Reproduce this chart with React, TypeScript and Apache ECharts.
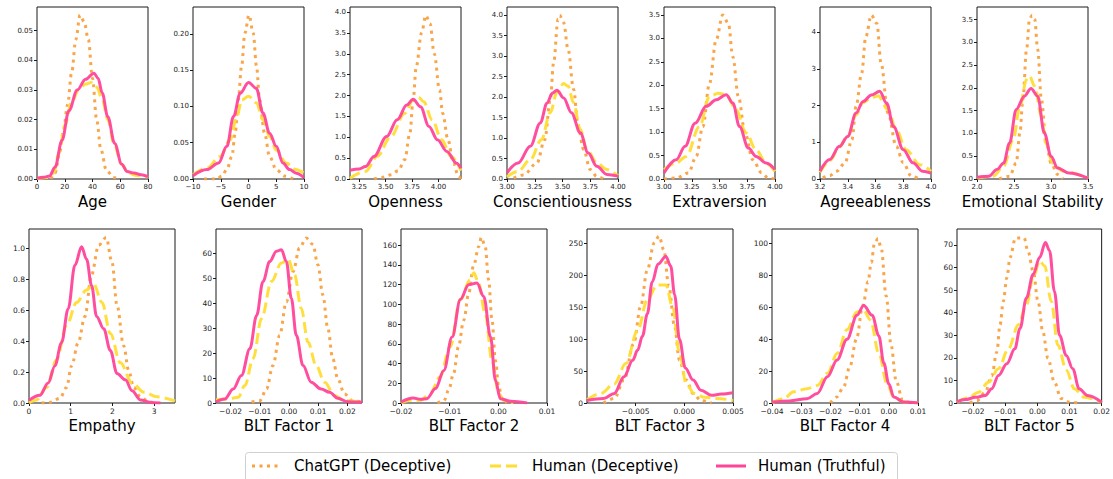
import React, { useEffect, useRef } from "react";
import * as echarts from "echarts";

// ---------- Data (x, density) ----------
const ageGpt = [[10,0],[13,0.002],[16,0.008],[19,0.016],[22,0.025],[25,0.036],[28,0.047],[31,0.0553],[34,0.053],[37,0.047],[40,0.034],[43,0.02],[46,0.01],[50,0.003],[55,0.0005],[60,0]];
const ageHumanDec = [[0,0.0002],[8,0.0005],[12,0.002],[16,0.009],[20,0.018],[25,0.026],[30,0.03],[35,0.032],[39,0.0325],[43,0.031],[47,0.027],[51,0.02],[56,0.011],[61,0.005],[66,0.002],[72,0.0012],[80,0.0006]];
const ageHumanTru = [[0,0.0003],[5,0.0006],[9,0.001],[13,0.004],[18,0.013],[23,0.023],[29,0.03],[35,0.0336],[41,0.0357],[44,0.034],[47,0.029],[51,0.021],[56,0.012],[61,0.005],[65,0.0025],[70,0.002],[75,0.0014],[80,0.0008]];

const genderGpt = [[-8,0],[-5.7,0],[-4.8,0.004],[-3.9,0.013],[-3.0,0.031],[-2.4,0.063],[-1.85,0.109],[-1.25,0.155],[-0.65,0.201],[0.1,0.226],[0.85,0.201],[1.45,0.155],[2.0,0.109],[2.9,0.063],[3.8,0.031],[5,0.013],[6.5,0.004],[8,0]];
const genderHumanDec = [[-10,0.006],[-7.5,0.015],[-5.1,0.031],[-3.3,0.054],[-2.1,0.086],[-1.2,0.109],[0,0.114],[1.4,0.105],[2.6,0.082],[3.8,0.059],[5,0.04],[6.8,0.022],[8.5,0.013],[10,0.008]];
const genderHumanTru = [[-10,0.0046],[-7.5,0.013],[-5.4,0.022],[-3.9,0.045],[-2.7,0.086],[-1.5,0.118],[0,0.133],[1.4,0.125],[2.6,0.091],[3.8,0.063],[5,0.045],[6.2,0.022],[7.4,0.013],[8.6,0.008],[10,0.002]];

const openGpt = [[3.39,0],[3.47,0.04],[3.55,0.1],[3.62,0.2],[3.68,0.46],[3.73,1.1],[3.76,1.9],[3.79,2.7],[3.84,3.5],[3.88,3.92],[3.92,3.72],[3.96,3.0],[4.01,2.13],[4.04,1.57],[4.09,0.94],[4.14,0.38],[4.19,0.06],[4.213,0]];
const openHumanDec = [[3.163,0.02],[3.31,0.18],[3.42,0.54],[3.55,1.02],[3.68,1.57],[3.76,1.89],[3.81,1.96],[3.86,1.85],[3.94,1.42],[4.03,0.94],[4.12,0.54],[4.213,0.2]];
const openHumanTru = [[3.163,0.21],[3.25,0.24],[3.31,0.3],[3.39,0.54],[3.51,1.02],[3.61,1.42],[3.7,1.77],[3.76,1.91],[3.83,1.73],[3.91,1.26],[3.99,0.94],[4.08,0.66],[4.17,0.38],[4.213,0.26]];

const consGpt = [[3.06,0.02],[3.15,0.1],[3.27,0.39],[3.34,0.96],[3.39,1.94],[3.42,2.84],[3.46,3.9],[3.475,4.0],[3.51,3.82],[3.55,3.17],[3.6,2.19],[3.64,1.29],[3.69,0.72],[3.75,0.23],[3.81,0.06],[3.87,0]];
const consHumanDec = [[3.0,0.05],[3.1,0.19],[3.21,0.47],[3.31,0.96],[3.39,1.62],[3.45,2.11],[3.51,2.33],[3.55,2.27],[3.6,1.86],[3.66,1.21],[3.72,0.72],[3.81,0.39],[3.9,0.23],[4.0,0.08]];
const consHumanTru = [[3.0,0.15],[3.1,0.39],[3.21,0.8],[3.3,1.37],[3.36,1.85],[3.41,2.1],[3.45,2.17],[3.51,1.98],[3.58,1.62],[3.66,1.13],[3.73,0.64],[3.81,0.31],[3.9,0.11],[4.0,0.07]];

const extraGpt = [[3.0,0],[3.11,0.02],[3.22,0.13],[3.29,0.48],[3.35,1.12],[3.41,2.04],[3.47,2.97],[3.53,3.5],[3.58,3.32],[3.62,2.61],[3.67,1.76],[3.73,0.98],[3.8,0.41],[3.88,0.13],[3.94,0.02],[4.0,0]];
const extraHumanDec = [[3.0,0.2],[3.11,0.34],[3.2,0.48],[3.32,1.12],[3.41,1.76],[3.49,1.83],[3.56,1.8],[3.65,1.48],[3.74,0.98],[3.83,0.62],[3.92,0.34],[4.0,0.16]];
const extraHumanTru = [[3.0,0.13],[3.11,0.41],[3.19,0.7],[3.28,1.19],[3.38,1.55],[3.47,1.69],[3.56,1.8],[3.62,1.62],[3.68,1.12],[3.76,0.66],[3.83,0.48],[3.92,0.34],[4.0,0.2]];

const agreeGpt = [[3.22,0.03],[3.27,0.09],[3.32,0.21],[3.38,0.44],[3.43,1.07],[3.46,1.98],[3.5,2.88],[3.53,3.88],[3.57,4.47],[3.61,4.24],[3.64,3.16],[3.69,1.8],[3.75,0.89],[3.8,0.44],[3.86,0.07],[3.92,0]];
const agreeHumanDec = [[3.2,0.18],[3.27,0.5],[3.34,0.87],[3.4,1.18],[3.46,1.75],[3.51,2.08],[3.57,2.22],[3.62,2.26],[3.69,1.89],[3.75,1.34],[3.82,0.8],[3.92,0.39],[4.0,0.21]];
const agreeHumanTru = [[3.2,0.21],[3.27,0.53],[3.34,0.89],[3.4,1.16],[3.46,1.8],[3.51,2.11],[3.57,2.29],[3.63,2.39],[3.68,2.07],[3.73,1.43],[3.8,0.8],[3.87,0.44],[3.94,0.21],[4.0,0.16]];

const emoGpt = [[2.3,0],[2.44,0.06],[2.53,0.35],[2.58,1.01],[2.62,1.75],[2.67,2.85],[2.71,3.51],[2.745,3.6],[2.78,3.51],[2.82,2.85],[2.87,1.75],[2.93,0.87],[3.0,0.35],[3.09,0.1],[3.16,0]];
const emoHumanDec = [[2.0,0.02],[2.22,0.06],[2.36,0.28],[2.49,0.87],[2.58,1.6],[2.67,2.19],[2.71,2.26],[2.78,2.04],[2.87,1.38],[2.93,0.79],[3.02,0.35],[3.16,0.17],[3.5,0.02]];
const emoHumanTru = [[2.0,0.04],[2.16,0.06],[2.27,0.21],[2.36,0.35],[2.44,0.79],[2.53,1.53],[2.64,1.82],[2.73,1.99],[2.82,1.82],[2.91,1.01],[3.0,0.5],[3.09,0.24],[3.24,0.13],[3.5,0.02]];

const empGpt = [[0.3,0],[0.5,0.004],[0.74,0.03],[0.9,0.1],[1.02,0.24],[1.18,0.39],[1.34,0.56],[1.5,0.83],[1.67,1.02],[1.85,1.07],[1.99,0.91],[2.11,0.63],[2.27,0.37],[2.39,0.21],[2.51,0.1],[2.67,0.04],[2.87,0.007],[3.0,0]];
const empHumanDec = [[0,0],[0.18,0.02],[0.42,0.1],[0.66,0.28],[0.9,0.5],[1.14,0.65],[1.38,0.73],[1.55,0.77],[1.75,0.65],[1.95,0.45],[2.19,0.26],[2.47,0.13],[2.75,0.07],[3.07,0.04],[3.5,0.013]];
const empHumanTru = [[0,0.017],[0.26,0.05],[0.46,0.13],[0.62,0.24],[0.78,0.39],[0.94,0.61],[1.1,0.89],[1.26,1.01],[1.38,0.93],[1.5,0.76],[1.62,0.56],[1.79,0.48],[1.95,0.34],[2.11,0.19],[2.31,0.15],[2.47,0.08],[2.67,0.02],[2.91,0.004],[3.15,0]];

const blt1Gpt = [[-0.0128,0.3],[-0.01,0.9],[-0.0077,5.6],[-0.0055,15],[-0.0032,27],[-0.0009,40.5],[0.0014,52.6],[0.0036,62],[0.0059,66],[0.0082,63.4],[0.0099,55.3],[0.0116,43.2],[0.0133,29.8],[0.015,17.7],[0.0167,9.7],[0.019,3.6],[0.0218,0.9],[0.025,0.3]];
const blt1HumanDec = [[-0.025,1.3],[-0.0208,1.6],[-0.0174,2.3],[-0.0151,7],[-0.0123,17.7],[-0.0094,33.8],[-0.006,48.6],[-0.0026,56],[-0.0003,57.5],[0.0019,51.3],[0.0042,37.8],[0.0065,24.4],[0.0093,15],[0.0122,8.3],[0.0156,3],[0.019,0.9],[0.025,0.3]];
const blt1HumanTru = [[-0.025,0.5],[-0.022,1.6],[-0.0191,5.6],[-0.0163,11],[-0.0134,21.7],[-0.0111,35],[-0.0089,48.6],[-0.0066,56.6],[-0.0043,60.7],[-0.0026,61.3],[-0.0009,56.6],[0.0008,41.9],[0.0025,27.1],[0.0048,15],[0.0076,8.3],[0.011,5.6],[0.0139,4.3],[0.0167,1.9],[0.0201,0.5],[0.025,0.3]];

const blt2Gpt = [[-0.0125,0],[-0.0112,2],[-0.0102,13],[-0.0092,30],[-0.0082,57],[-0.0071,84],[-0.0061,111],[-0.0051,139],[-0.004,159],[-0.0035,168],[-0.0027,159],[-0.002,125],[-0.0013,84],[-0.0006,43],[0.0001,16],[0.0008,3],[0.0018,0]];
const blt2HumanDec = [[-0.02,0],[-0.0181,2.7],[-0.016,2.7],[-0.014,9.5],[-0.012,26.5],[-0.0099,57],[-0.0078,105],[-0.0058,125],[-0.005,132],[-0.0041,122],[-0.0027,91],[-0.0013,43],[0.0001,9.5],[0.0011,2.7],[0.0031,0]];
const blt2HumanTru = [[-0.02,1],[-0.0175,5],[-0.016,3.8],[-0.0147,4.4],[-0.0129,14.6],[-0.0112,33],[-0.0095,67],[-0.0078,105],[-0.0061,120],[-0.0044,121.6],[-0.003,108],[-0.0016,67],[-0.0006,23],[0.0004,4.4],[0.0025,1.7],[0.0059,0]];

const blt3Gpt = [[-0.0083,0],[-0.0072,7],[-0.0062,36],[-0.0052,93],[-0.0045,151],[-0.0038,209],[-0.0031,251],[-0.0026,262],[-0.0021,240],[-0.0016,183],[-0.001,120],[-0.0005,67],[0.0002,36],[0.0009,15],[0.0017,4],[0.0028,0]];
const blt3HumanDec = [[-0.01,5],[-0.0086,15],[-0.0072,30],[-0.006,62],[-0.0048,114],[-0.0038,162],[-0.0028,185],[-0.0019,185],[-0.0012,151],[-0.0005,78],[0.0002,30],[0.001,15],[0.0021,9],[0.0034,7],[0.005,4]];
const blt3HumanTru = [[-0.01,4],[-0.0083,7],[-0.0072,15],[-0.0062,41],[-0.0053,67],[-0.0048,83],[-0.0043,105],[-0.0038,140],[-0.0033,190],[-0.0027,218],[-0.0019,230],[-0.0014,215],[-0.001,170],[-0.0005,100],[0.0001,55],[0.0009,36],[0.0017,20],[0.0028,12],[0.0038,14],[0.005,16]];

const blt4Gpt = [[-0.02,0],[-0.0178,3.8],[-0.0155,10],[-0.0133,23],[-0.0111,40],[-0.0089,61],[-0.0071,76],[-0.006,88],[-0.0049,100],[-0.0037,103],[-0.0026,97],[-0.0009,67],[0.0008,36],[0.0025,14],[0.0047,2],[0.007,0]];
const blt4HumanDec = [[-0.04,0],[-0.036,2.7],[-0.0326,7],[-0.028,9],[-0.0245,11],[-0.021,18.6],[-0.0177,31],[-0.0143,46],[-0.0109,57],[-0.0086,58],[-0.0063,52],[-0.0034,31],[-0.0006,12],[0.0017,3.8],[0.0051,0.6],[0.01,0]];
const blt4HumanTru = [[-0.04,0.6],[-0.034,1.3],[-0.028,2.7],[-0.0245,6],[-0.021,16.5],[-0.0177,27],[-0.0143,40],[-0.0109,55],[-0.0086,61],[-0.0057,55],[-0.0034,42],[-0.0017,25],[0,12],[0.0017,3.8],[0.0051,0.6],[0.01,0]];

const blt5Gpt = [[-0.021,0],[-0.0188,1],[-0.0162,4.8],[-0.0142,12],[-0.0126,22.6],[-0.0116,34.6],[-0.0106,45],[-0.0095,55.4],[-0.0085,64.4],[-0.0068,73],[-0.0041,73],[-0.0029,67],[-0.0013,58.4],[0.0002,45],[0.0017,31.6],[0.0033,19.7],[0.0053,9.2],[0.0074,2],[0.01,0.3],[0.0125,0]];
const blt5HumanDec = [[-0.025,0.3],[-0.0213,2.5],[-0.0183,4.8],[-0.0152,9.2],[-0.0121,15.2],[-0.009,24],[-0.0059,34.6],[-0.0034,43.5],[-0.0013,55.4],[0.0007,62.9],[0.0023,60.6],[0.0043,45],[0.0064,25.6],[0.009,14.6],[0.0115,6.3],[0.0146,2.5],[0.02,0.3]];
const blt5HumanTru = [[-0.025,0.6],[-0.0224,1.5],[-0.0193,2.5],[-0.0162,3.3],[-0.0142,6.3],[-0.0121,12.2],[-0.0095,17.4],[-0.007,24],[-0.0054,33],[-0.0034,46.5],[-0.0013,57],[0.0007,64.4],[0.0025,71],[0.0038,67.4],[0.0053,49.5],[0.0069,30],[0.009,21],[0.011,15.2],[0.013,6.3],[0.0156,3.3],[0.02,0.3]];

// ---------- Tick labels ----------
const ageXTicks = [0, 20, 40, 60, 80];
const ageYTicks = [0, 0.01, 0.02, 0.03, 0.04, 0.05];
const genderXTicks = [-10, -5, 0, 5, 10];
const genderYTicks = [0, 0.05, 0.1, 0.15, 0.2];
const openXTicks = [3.25, 3.5, 3.75, 4.0];
const halfYTicks4 = [0, 0.5, 1, 1.5, 2, 2.5, 3, 3.5, 4];
const halfYTicks35 = [0, 0.5, 1, 1.5, 2, 2.5, 3, 3.5];
const quarterXTicks = [3.0, 3.25, 3.5, 3.75, 4.0];
const agreeXTicks = [3.2, 3.4, 3.6, 3.8, 4.0];
const agreeYTicks = [0, 1, 2, 3, 4];
const emoXTicks = [2.0, 2.5, 3.0, 3.5];
const empXTicks = [0, 1, 2, 3];
const empYTicks = [0, 0.2, 0.4, 0.6, 0.8, 1.0];
const blt1XTicks = [-0.02, -0.01, 0, 0.01, 0.02];
const blt1YTicks = [0, 10, 20, 30, 40, 50, 60];
const blt2XTicks = [-0.02, -0.01, 0, 0.01];
const blt2YTicks = [0, 20, 40, 60, 80, 100, 120, 140, 160];
const blt3XTicks = [-0.005, 0, 0.005];
const blt3YTicks = [0, 50, 100, 150, 200, 250];
const blt4XTicks = [-0.04, -0.03, -0.02, -0.01, 0, 0.01];
const blt4YTicks = [0, 20, 40, 60, 80, 100];
const blt5XTicks = [-0.02, -0.01, 0, 0.01, 0.02];
const blt5YTicks = [0, 10, 20, 30, 40, 50, 60, 70];

const seriesNames = ["ChatGPT (Deceptive)", "Human (Deceptive)", "Human (Truthful)"];

const panels = [
  { name: "Age", xr: [0, 80], xt: ageXTicks, xd: 0, yr: [0, 0.058], yt: ageYTicks, yd: 2, d: [ageGpt, ageHumanDec, ageHumanTru] },
  { name: "Gender", xr: [-10, 10], xt: genderXTicks, xd: 0, yr: [0, 0.237], yt: genderYTicks, yd: 2, d: [genderGpt, genderHumanDec, genderHumanTru] },
  { name: "Openness", xr: [3.163, 4.213], xt: openXTicks, xd: 2, yr: [0, 4.12], yt: halfYTicks4, yd: 1, d: [openGpt, openHumanDec, openHumanTru] },
  { name: "Conscientiousness", xr: [3, 4], xt: quarterXTicks, xd: 2, yr: [0, 4.2], yt: halfYTicks4, yd: 1, d: [consGpt, consHumanDec, consHumanTru] },
  { name: "Extraversion", xr: [3, 4], xt: quarterXTicks, xd: 2, yr: [0, 3.67], yt: halfYTicks35, yd: 1, d: [extraGpt, extraHumanDec, extraHumanTru] },
  { name: "Agreeableness", xr: [3.2, 4], xt: agreeXTicks, xd: 1, yr: [0, 4.69], yt: agreeYTicks, yd: 0, d: [agreeGpt, agreeHumanDec, agreeHumanTru] },
  { name: "Emotional Stability", xr: [2, 3.5], xt: emoXTicks, xd: 1, yr: [0, 3.78], yt: halfYTicks35, yd: 1, d: [emoGpt, emoHumanDec, emoHumanTru] },
  { name: "Empathy", xr: [0, 3.5], xt: empXTicks, xd: 0, yr: [0, 1.125], yt: empYTicks, yd: 1, d: [empGpt, empHumanDec, empHumanTru] },
  { name: "BLT Factor 1", xr: [-0.025, 0.025], xt: blt1XTicks, xd: 2, yr: [0, 69.6], yt: blt1YTicks, yd: 0, d: [blt1Gpt, blt1HumanDec, blt1HumanTru] },
  { name: "BLT Factor 2", xr: [-0.02, 0.01], xt: blt2XTicks, xd: 2, yr: [0, 176.5], yt: blt2YTicks, yd: 0, d: [blt2Gpt, blt2HumanDec, blt2HumanTru] },
  { name: "BLT Factor 3", xr: [-0.01, 0.005], xt: blt3XTicks, xd: 3, yr: [0, 273], yt: blt3YTicks, yd: 0, d: [blt3Gpt, blt3HumanDec, blt3HumanTru] },
  { name: "BLT Factor 4", xr: [-0.04, 0.01], xt: blt4XTicks, xd: 2, yr: [0, 109], yt: blt4YTicks, yd: 0, d: [blt4Gpt, blt4HumanDec, blt4HumanTru] },
  { name: "BLT Factor 5", xr: [-0.025, 0.02], xt: blt5XTicks, xd: 2, yr: [0, 77], yt: blt5YTicks, yd: 0, d: [blt5Gpt, blt5HumanDec, blt5HumanTru] },
];

// ---------- Layout & style ----------
const W = 1113;
const H = 479;
const FONT = "DejaVu Sans";
const row1Left = [37, 193, 350, 507, 664, 820, 977];
const row2Left = [29, 216, 401, 587, 772, 957];
const COLORS = ["#F9A03F", "#FFDD33", "#FF4499"];
const DASHES: any[] = [[3, 4.5], [11, 5], "solid"];

function fmt(v: number, d: number) {
  return v.toFixed(d).replace("-", "\u2212");
}

function buildOption() {
  const grid: any[] = [];
  const xAxis: any[] = [];
  const yAxis: any[] = [];
  const series: any[] = [];
  panels.forEach((p, i) => {
    const row1 = i < 7;
    const left = row1 ? row1Left[i] : row2Left[i - 7];
    const width = row1 ? 111 : 146;
    const top = row1 ? 7 : 229;
    const height = row1 ? 172 : 174;
    const fs = row1 ? 7 : 7.5;
    grid.push({ left, top, width, height, show: true, borderColor: "#1a1a1a", borderWidth: 1, backgroundColor: "#fff", containLabel: false });
    xAxis.push({
      gridIndex: i, type: "value", min: p.xr[0], max: p.xr[1], position: "bottom",
      name: p.name, nameLocation: "middle", nameGap: 15,
      nameTextStyle: { fontFamily: FONT, fontSize: 15, color: "#000", verticalAlign: "top" },
      splitLine: { show: false }, axisLine: { show: false, onZero: false },
      axisTick: { show: true, length: 3, lineStyle: { color: "#1a1a1a", width: 1 }, customValues: p.xt },
      axisLabel: { fontFamily: FONT, fontSize: fs, color: "#222", margin: 4, customValues: p.xt, formatter: (v: number) => fmt(v, p.xd), hideOverlap: false },
    });
    yAxis.push({
      gridIndex: i, type: "value", min: p.yr[0], max: p.yr[1], position: "left",
      splitLine: { show: false }, axisLine: { show: false, onZero: false },
      axisTick: { show: true, length: 3, lineStyle: { color: "#1a1a1a", width: 1 }, customValues: p.yt },
      axisLabel: { fontFamily: FONT, fontSize: fs, color: "#222", margin: 4, customValues: p.yt, formatter: (v: number) => fmt(v, p.yd) },
    });
    p.d.forEach((data, k) => {
      series.push({
        type: "line", name: seriesNames[k], xAxisIndex: i, yAxisIndex: i, data,
        showSymbol: false, symbol: "none", smooth: 0.35, smoothMonotone: "x", silent: true, clip: true,
        lineStyle: { color: COLORS[k], width: 3, type: DASHES[k], cap: "butt", opacity: 0.95 },
        z: 2 + k,
      });
    });
  });

  const legendY = 466;
  const items = [
    { x1: 252, x2: 282, tx: 294 },
    { x1: 490, x2: 520, tx: 532 },
    { x1: 716, x2: 746, tx: 758 },
  ];
  const graphic: any[] = [
    { type: "rect", shape: { x: 245.5, y: 452.5, width: 652, height: 40, r: 3 }, style: { fill: "#fff", stroke: "#d0d0d0", lineWidth: 1 }, z: 10 },
  ];
  items.forEach((it, k) => {
    graphic.push({
      type: "line", shape: { x1: it.x1, y1: legendY, x2: it.x2, y2: legendY },
      style: { stroke: COLORS[k], lineWidth: 3, lineDash: k === 2 ? null : DASHES[k], lineCap: "butt" }, z: 11,
    });
    graphic.push({
      type: "text", x: it.tx, y: legendY,
      style: { text: seriesNames[k], fontFamily: FONT, fontSize: 15, fill: "#000", verticalAlign: "middle", align: "left" }, z: 11,
    });
  });

  return { animation: false, backgroundColor: "#fff", grid, xAxis, yAxis, series, graphic };
}

export default function App() {
  const ref = useRef<HTMLDivElement>(null);
  useEffect(() => {
    if (!ref.current) return;
    const chart = echarts.init(ref.current, undefined, { renderer: "svg", width: W, height: H });
    chart.setOption(buildOption() as any);
    return () => chart.dispose();
  }, []);
  return <div ref={ref} style={{ position: "fixed", left: 0, top: 0, width: W, height: H, background: "#fff" }} />;
}
